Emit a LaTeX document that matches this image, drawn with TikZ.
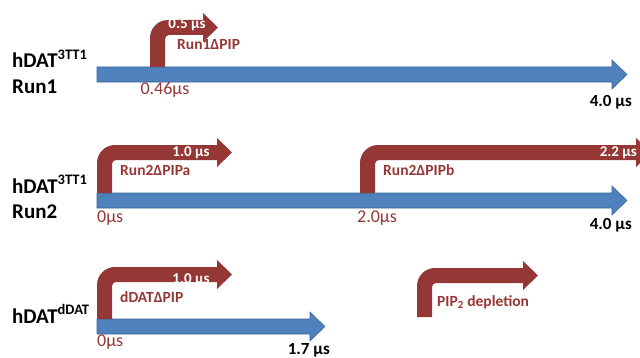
\documentclass[tikz,border=0pt]{standalone}
\usepackage{fontspec}
\setmainfont{Carlito}
\definecolor{barblue}{HTML}{4F81BD}
\definecolor{baredge}{HTML}{3A679C}
\definecolor{dred}{HTML}{953735}
\newcommand{\redbent}[5]{% xl, yb, yt, xh, xtip
 \fill[dred] (#1,#2) -- (#1,{#3-18}) arc[start angle=180,end angle=90,radius=18] -- (#4,#3) -- (#4,{#3-7.5+14.5}) -- (#5,{#3-7.5}) -- (#4,{#3-7.5-14.5}) -- (#4,{#3-15}) -- ({#1+15+4},{#3-15}) arc[start angle=90,end angle=180,radius=4] -- ({#1+15},#2) -- cycle;}
\newcommand{\bluebar}[4]{% xl, ytop, xs, xtip
 \filldraw[fill=barblue,draw=baredge,line width=0.6pt] (#1,#2) -- (#3,#2) -- (#3,{#2+7}) -- (#4,{#2-7.5}) -- (#3,{#2-22}) -- (#3,{#2-15}) -- (#1,{#2-15}) -- cycle;}
\newcommand{\supx}[1]{\raisebox{0.42em}{\fontsize{14.5}{15}\selectfont #1}}
\begin{document}
\begin{tikzpicture}[x=1pt,y=1pt,
  lab/.style={font=\fontsize{21}{24}\selectfont\bfseries, anchor=base west, inner sep=0},
  tm/.style={text=dred, font=\fontsize{18}{20}\selectfont, inner sep=0},
  endt/.style={font=\fontsize{17}{20}\selectfont\bfseries, anchor=east, inner sep=0},
  rl/.style={text=dred, font=\fontsize{15.5}{18}\selectfont\bfseries, anchor=west, inner sep=0},
  wt/.style={text=white, font=\fontsize{15}{17}\selectfont\bfseries, inner sep=0}]
\useasboundingbox (0,0) rectangle (640,357);
\clip (0,0) rectangle (640,357);
% Row 1
\bluebar{97}{290}{612}{627}
\redbent{150}{290}{337}{203}{218}
\node[lab] (l1a) at (12,289) {hDAT\supx{3TT1}};
\node[lab] (l1b) at (12,264) {Run1};
\node[tm] (t1) at (165,267) {0.46μs};
\node[endt] (e1) at (632,255) {4.0 μs};
\node[wt] (w1) at (187,332) {0.5 μs};
\node[rl] (r1) at (177,312) {Run1ΔPIP};
% Row 2
\bluebar{97}{164}{612}{627}
\redbent{97}{164}{212}{217}{232}
\redbent{360}{164}{212}{636}{651}
\node[lab] (l2a) at (12,164) {hDAT\supx{3TT1}};
\node[lab] (l2b) at (12,139) {Run2};
\node[wt] (w2) at (191,204) {1.0 μs};
\node[rl] (r2) at (120,187) {Run2ΔPIPa};
\node[tm,anchor=west] (t2) at (97,139) {0μs};
\node[wt,anchor=east] (w3) at (637,204) {2.2 μs};
\node[rl] (r3) at (383,187) {Run2ΔPIPb};
\node[tm,anchor=west] (t3) at (357,139) {2.0μs};
\node[endt] (e2) at (632,132) {4.0 μs};
% Row 3
\bluebar{97}{38}{310}{325}
\redbent{97}{38}{90}{217}{232}
\node[lab] (l3) at (12,34) {hDAT\supx{dDAT}};
\node[wt] (w4) at (191,77) {1.0 μs};
\node[rl] (r4) at (120,60) {dDATΔPIP};
\node[tm,anchor=west] (t4) at (97,15) {0μs};
\node[endt] (e3) at (330,7) {1.7 μs};
% Legend
\redbent{417}{40}{89}{523}{538}
\node[rl] (leg) at (437,55) {PIP\textsubscript{2} depletion};
\end{tikzpicture}
\end{document}
